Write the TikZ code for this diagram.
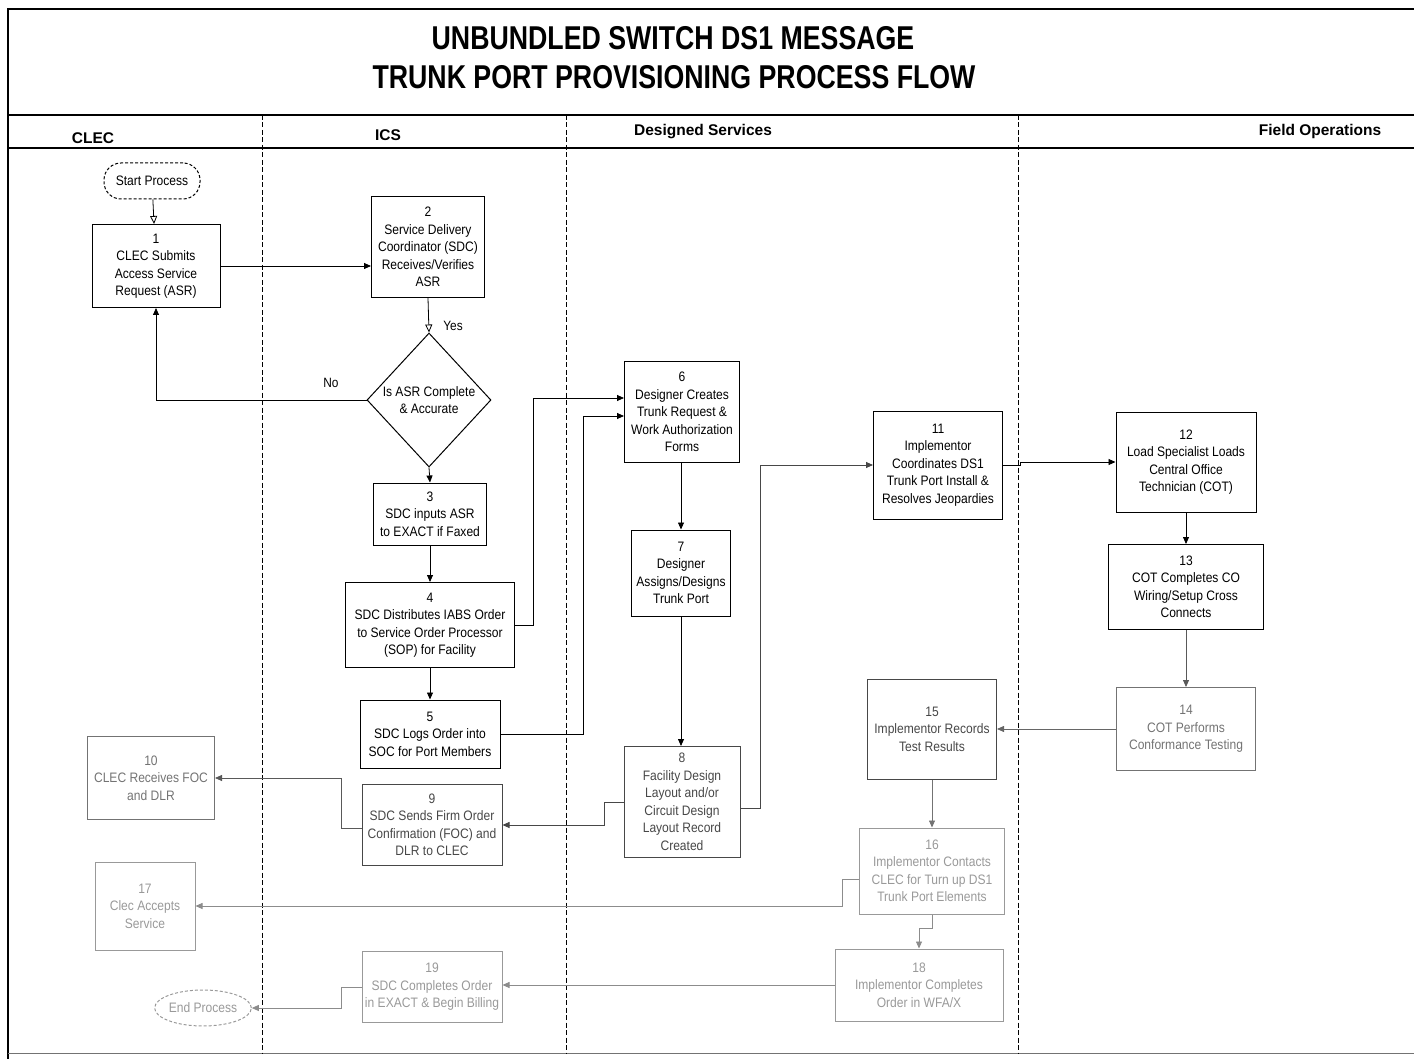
\documentclass[tikz,border=0pt]{standalone}
\usepackage{fontspec}
\setmainfont{Liberation Sans}
\newfontfamily\boxfont[FakeStretch=0.88]{Liberation Sans}
\newfontfamily\titlefont[FakeStretch=0.81]{Liberation Sans}
\usetikzlibrary{arrows.meta,shapes.geometric}
\begin{document}
\begin{tikzpicture}[x=1pt,y=-1pt,
  box/.style={draw,line width=1pt,align=center,inner sep=2pt,
    font=\boxfont\fontsize{13.7}{17.5}\selectfont},
  fadeA/.style={draw=black!72,text=black!72},
  fadeB/.style={draw=black!55,text=black!55},
  fadeC/.style={draw=black!40,text=black!40},
  conn/.style={line width=0.8pt,-{Triangle[length=7pt,width=6pt]}},
  oconn/.style={line width=0.8pt,-{Triangle[open,length=8pt,width=7pt]}},
  lane/.style={line width=0.8pt,dash pattern=on 5pt off 2.5pt},
  lbl/.style={font=\boxfont\fontsize{13.5}{15}\selectfont}]
\useasboundingbox (0,0) rectangle (1414,1059);
% frame
\draw[line width=1.5pt] (8,1059) -- (8,9) -- (1414,9);
\draw[line width=1.2pt] (8,115) -- (1414,115);
\draw[line width=1.2pt] (8,148) -- (1414,148);
\draw[line width=1pt,black!55] (8,1053) -- (1414,1053);
% title
\node[font=\titlefont\bfseries\fontsize{33}{38}\selectfont] (t1) at (673,38) {UNBUNDLED SWITCH DS1 MESSAGE};
\node[font=\titlefont\bfseries\fontsize{33}{38}\selectfont] (t2) at (674,77) {TRUNK PORT PROVISIONING PROCESS FLOW};
% lanes
\foreach \lx in {262,566,1018} \draw[lane] (\lx,115) -- (\lx,1053);
\node[font=\bfseries\fontsize{15.5}{18}\selectfont] (h1) at (93,138) {CLEC};
\node[font=\bfseries\fontsize{15.5}{18}\selectfont] (h2) at (388,135) {ICS};
\node[font=\bfseries\fontsize{15.5}{18}\selectfont] (h3) at (703,132) {Designed Services};
\node[font=\bfseries\fontsize{15.5}{18}\selectfont] (h4) at (1320,131) {Field Operations};
% nodes
\node[box,rounded corners=17pt,densely dashed,minimum width=96,minimum height=36] (start) at (152,181) {Start Process};
\node[box,minimum width=128,minimum height=83] (b1) at (156,266) {1\\CLEC Submits\\Access Service\\Request (ASR)};
\node[box,minimum width=113,minimum height=101] (b2) at (428,247) {2\\Service Delivery\\Coordinator (SDC)\\Receives/Verifies\\ASR};
\node[box,diamond,aspect=0.93,inner sep=0pt,minimum width=124,minimum height=134] (d) at (429,400) {Is ASR Complete\\\& Accurate};
\node[box,minimum width=113,minimum height=62] (b3) at (430,514) {3\\SDC inputs ASR\\to EXACT if Faxed};
\node[box,minimum width=169,minimum height=85] (b4) at (430,625) {4\\SDC Distributes IABS Order\\to Service Order Processor\\(SOP) for Facility};
\node[box,minimum width=140,minimum height=68] (b5) at (430,734) {5\\SDC Logs Order into\\SOC for Port Members};
\node[box,fadeA,minimum width=140,minimum height=81] (b9) at (432,825) {9\\SDC Sends Firm Order\\Confirmation (FOC) and\\DLR to CLEC};
\node[box,fadeB,minimum width=127,minimum height=83] (b10) at (151,778) {10\\CLEC Receives FOC\\and DLR};
\node[box,fadeC,minimum width=100,minimum height=88] (b17) at (145,906) {17\\Clec Accepts\\Service};
\node[box,fadeC,ellipse,densely dashed,inner sep=0pt,minimum width=80,minimum height=36] (end) at (203,1008) {End Process};
\node[box,fadeC,minimum width=140,minimum height=71] (b19) at (432,987) {19\\SDC Completes Order\\in EXACT \& Begin Billing};
\node[box,minimum width=115,minimum height=101] (b6) at (682,412) {6\\Designer Creates\\Trunk Request \&\\Work Authorization\\Forms};
\node[box,minimum width=99,minimum height=86] (b7) at (681,573) {7\\Designer\\Assigns/Designs\\Trunk Port};
\node[box,fadeA,minimum width=116,minimum height=111] (b8) at (682,802) {8\\Facility Design\\Layout and/or\\Circuit Design\\Layout Record\\Created};
\node[box,minimum width=129,minimum height=108] (b11) at (938,465) {11\\Implementor\\Coordinates DS1\\Trunk Port Install \&\\Resolves Jeopardies};
\node[box,minimum width=140,minimum height=100] (b12) at (1186,462) {12\\Load Specialist Loads\\Central Office\\Technician (COT)};
\node[box,minimum width=155,minimum height=85] (b13) at (1186,587) {13\\COT Completes CO\\Wiring/Setup Cross\\Connects};
\node[box,fadeB,minimum width=139,minimum height=83] (b14) at (1186,729) {14\\COT Performs\\Conformance Testing};
\node[box,fadeA,minimum width=129,minimum height=100] (b15) at (932,729) {15\\Implementor Records\\Test Results};
\node[box,fadeC,minimum width=145,minimum height=86] (b16) at (932,871) {16\\Implementor Contacts\\CLEC for Turn up DS1\\Trunk Port Elements};
\node[box,fadeC,minimum width=168,minimum height=72] (b18) at (919,985) {18\\Implementor Completes\\Order in WFA/X};
% labels
\node[lbl] (yes) at (453,326) {Yes};
\node[lbl] (no) at (331,383) {No};
% connectors
\draw[oconn] (start) -- (b1);
\draw[conn] (b1.east) -- (b2.west |- b1.east);
\draw[oconn] (b2.south) -- (d.north);
\draw[conn] (d.south) -- (b3.north);
\draw[conn] (d.west) -| (b1.south);
\draw[conn] (b3.south) -- (b4.north);
\draw[conn] (b4.south) -- (b5.north);
\draw[conn] (b4.east) -- ++(18,0) |- ([yshift=14pt]b6.west);
\draw[conn] (b5.east) -- ++(83,0) |- ([yshift=-4pt]b6.west);
\draw[conn] (b7.north |- b6.south) -- (b7.north);
\draw[conn] (b7.south) -- (b7.south |- b8.north);
\draw[conn,black!72] (b8.west) -- ++(-19,0) |- (b9.east);
\draw[conn,black!72] ([yshift=-6pt]b8.east) -- ++(20,0) |- (b11.west);
\draw[conn,black!65] ([yshift=-3pt]b9.west) -- ++(-20,0) |- (b10.east);
\draw[conn] (b11.east) -- ++(17,0) |- (b12.west);
\draw[conn] (b12.south) -- (b13.north);
\draw[conn,black!65] (b13.south) -- (b14.north);
\draw[conn,black!60] (b14.west) -- (b15.east);
\draw[conn,black!55] (b15.south) -- (b16.north);
\draw[conn,black!45] ([yshift=-8pt]b16.west) -- ++(-17,0) |- (b17.east);
\draw[conn,black!45] (b16.south) -- ++(0,14) -| (b18.north);
\draw[conn,black!45] (b18.west) -- (b19.east |- b18.west);
\draw[conn,black!45] (b19.west) -- ++(-20,0) |- (end.east);
\end{tikzpicture}
\end{document}
